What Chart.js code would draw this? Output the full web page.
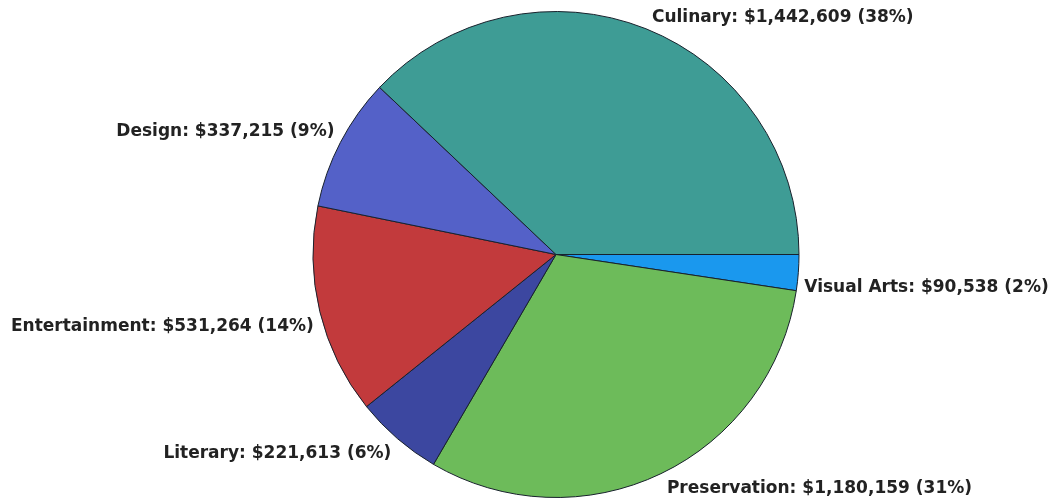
<!DOCTYPE html>
<html>
<head>
<meta charset="utf-8">
<title>Grants by Discipline</title>
<script src="https://cdn.jsdelivr.net/npm/chart.js@4.4.1/dist/chart.umd.min.js"></script>
<style>
  html, body { margin: 0; padding: 0; background: #ffffff; }
  #wrap { width: 1052px; height: 498px; position: relative; }
</style>
</head>
<body>
<div id="wrap"><canvas id="disciplinePie"></canvas></div>
<script>
// Slices run clockwise from 3 o'clock, so Culinary ends up closing the circle at the top
const categories = ['Visual Arts', 'Preservation', 'Literary', 'Entertainment', 'Design', 'Culinary'];
const amounts = [90538, 1180159, 221613, 531264, 337215, 1442609];
const sliceColors = ['#1a98ee', '#6dbb5a', '#3c47a0', '#c23a3c', '#5461c8', '#3e9c95'];

const total = amounts.reduce((a, b) => a + b, 0);

function labelText(i) {
  const pct = Math.round(amounts[i] / total * 100);
  return `${categories[i]}: $${amounts[i].toLocaleString('en-US')} (${pct}%)`;
}

// Outside labels: anchored at each arc's mid-angle on the rim, pushed outward
const outsideLabels = {
  id: 'outsideLabels',
  afterDatasetsDraw(chart) {
    const ctx = chart.ctx;
    const meta = chart.getDatasetMeta(0);
    ctx.save();
    ctx.font = 'bold 17px "DejaVu Sans", Verdana, sans-serif';
    ctx.fillStyle = '#222222';
    ctx.textBaseline = 'middle';
    meta.data.forEach((arc, i) => {
      const mid = (arc.startAngle + arc.endAngle) / 2;
      const cos = Math.cos(mid);
      const sin = Math.sin(mid);
      const px = arc.x + cos * arc.outerRadius;
      const py = arc.y + sin * arc.outerRadius;
      const right = cos >= 0;
      ctx.textAlign = right ? 'left' : 'right';
      const tx = px + (right ? 6 : -6);
      const ty = py + (sin >= 0 ? 15 : -11);
      ctx.fillText(labelText(i), tx, ty);
    });
    ctx.restore();
  }
};

new Chart(document.getElementById('disciplinePie').getContext('2d'), {
  type: 'pie',
  data: {
    labels: categories,
    datasets: [{
      data: amounts,
      backgroundColor: sliceColors,
      borderColor: '#18212c',
      borderWidth: 1
    }]
  },
  options: {
    responsive: true,
    maintainAspectRatio: false,
    animation: false,
    rotation: 90,
    layout: { padding: { top: 11, bottom: 0, left: 60, right: 0 } },
    plugins: {
      legend: { display: false },
      tooltip: { enabled: false }
    }
  },
  plugins: [outsideLabels]
});
</script>
</body>
</html>
